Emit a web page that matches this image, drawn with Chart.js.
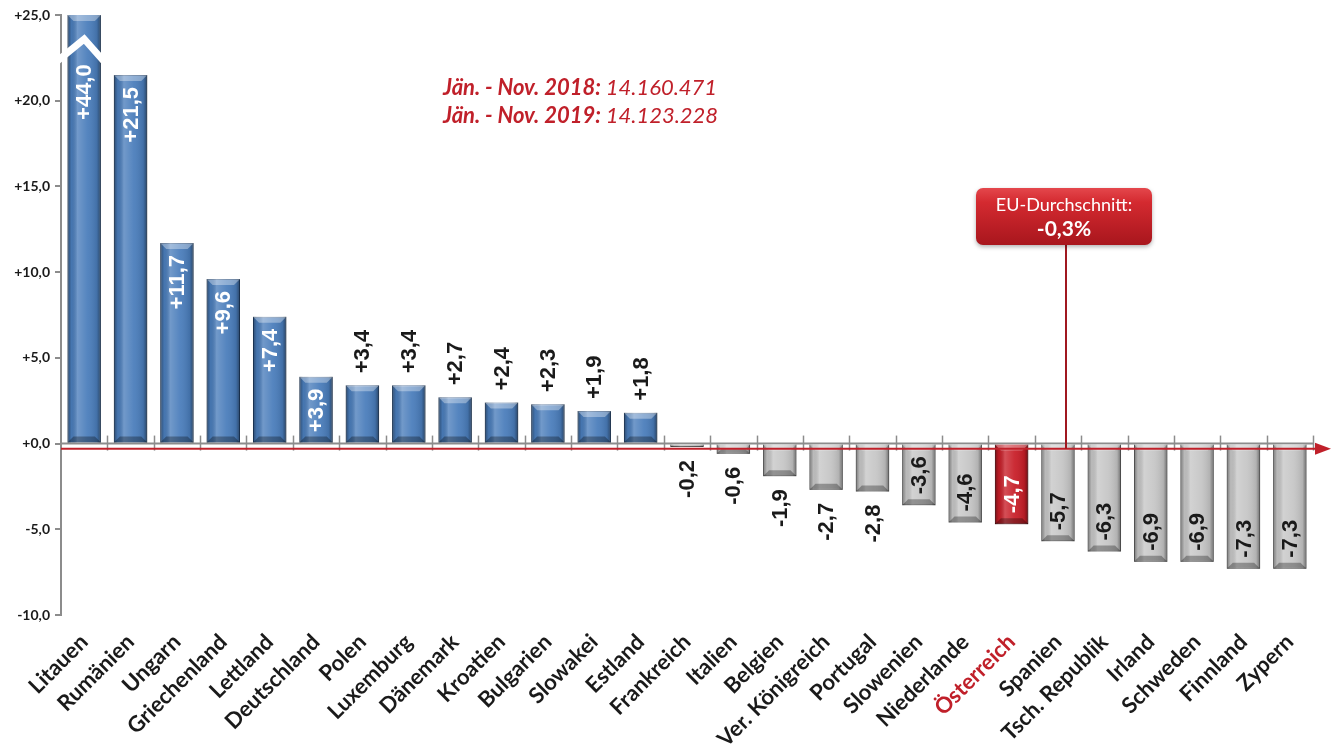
<!DOCTYPE html>
<html>
<head>
<meta charset="utf-8">
<script src="https://cdn.jsdelivr.net/npm/chart.js@4.4.1/dist/chart.umd.min.js"></script>
<style>
html, body { margin: 0; padding: 0; background: #fff; }
#wrap { width: 1337px; height: 756px; }
</style>
</head>
<body>
<div id="wrap"><canvas id="chart"></canvas></div>
<script>
const countries = ['Litauen', 'Rumänien', 'Ungarn', 'Griechenland', 'Lettland', 'Deutschland', 'Polen', 'Luxemburg',
    'Dänemark', 'Kroatien', 'Bulgarien', 'Slowakei', 'Estland', 'Frankreich', 'Italien', 'Belgien', 'Ver. Königreich',
    'Portugal', 'Slowenien', 'Niederlande', 'Österreich', 'Spanien', 'Tsch. Republik', 'Irland', 'Schweden', 'Finnland', 'Zypern'];
const changes = [44.0, 21.5, 11.7, 9.6, 7.4, 3.9, 3.4, 3.4, 2.7, 2.4, 2.3, 1.9, 1.8,
    -0.2, -0.6, -1.9, -2.7, -2.8, -3.6, -4.6, -4.7, -5.7, -6.3, -6.9, -6.9, -7.3, -7.3];
const yMin = -10;
const yMax = 25;
const yStep = 5;
const euAverage = -0.3;
const highlight = 'Österreich';
const totalLabels = ['Jän. - Nov. 2018:', 'Jän. - Nov. 2019:'];
const totalValues = ['14.160.471', '14.123.228'];

const RED = '#c0202a';
const TEXT = '#1a1a1a';

function fmt(v) {
    var s = Math.abs(v).toFixed(1).replace('.', ',');
    return (v < 0 ? '-' : '+') + s;
}

function barColor(i) {
    if (countries[i] === highlight) return '#c81e28';
    return changes[i] > 0 ? '#4a7dbb' : '#c6c6c6';
}
function barBorder(i) {
    if (countries[i] === highlight) return '#7e1016';
    return changes[i] > 0 ? '#274d7d' : '#7d7d7d';
}

const decor = {
    id: 'decor',
    beforeDatasetsDraw(chart) {
        const c = chart.ctx, area = chart.chartArea, y = chart.scales.y;
        const y0 = y.getPixelForValue(0);
        const w = (area.right - area.left) / countries.length;
        c.save();
        c.strokeStyle = '#8c8c8c';
        c.lineWidth = 2;
        c.beginPath();
        c.moveTo(area.left, y0);
        c.lineTo(area.right, y0);
        c.stroke();
        c.lineWidth = 1.5;
        for (var i = 1; i <= countries.length; i++) {
            var x = Math.round(area.left + i * w) + 0.5;
            c.beginPath();
            c.moveTo(x, y0 - 8);
            c.lineTo(x, y0 + 7);
            c.stroke();
        }
        c.restore();
    },
    afterDatasetsDraw(chart) {
        const c = chart.ctx, area = chart.chartArea, ys = chart.scales.y;
        const meta = chart.getDatasetMeta(0);
        c.save();
        c.beginPath();
        c.rect(area.left, area.top, area.right - area.left, area.bottom - area.top);
        c.clip();
        meta.data.forEach(function (bar, i) {
            var p = bar.getProps(['x', 'y', 'base', 'width'], true);
            var left = p.x - p.width / 2, right = p.x + p.width / 2;
            var top = Math.max(Math.min(p.y, p.base), area.top);
            var bottom = Math.max(p.y, p.base);
            var h = bottom - top;
            var g = c.createLinearGradient(left, 0, right, 0);
            g.addColorStop(0, 'rgba(0,0,0,0.40)');
            g.addColorStop(0.12, 'rgba(0,0,0,0.06)');
            g.addColorStop(0.3, 'rgba(255,255,255,0.22)');
            g.addColorStop(0.6, 'rgba(255,255,255,0.06)');
            g.addColorStop(0.88, 'rgba(0,0,0,0.10)');
            g.addColorStop(1, 'rgba(0,0,0,0.45)');
            c.fillStyle = g;
            c.fillRect(left, top, p.width, h);
            var b = Math.min(6, h / 2);
            c.fillStyle = 'rgba(255,255,255,0.35)';
            c.beginPath();
            c.moveTo(left, top); c.lineTo(right, top);
            c.lineTo(right - b, top + b); c.lineTo(left + b, top + b);
            c.closePath(); c.fill();
            c.fillStyle = 'rgba(0,0,0,0.30)';
            c.beginPath();
            c.moveTo(left, bottom); c.lineTo(right, bottom);
            c.lineTo(right - b, bottom - b); c.lineTo(left + b, bottom - b);
            c.closePath(); c.fill();
        });
        c.restore();

        // break mark on the clipped first bar
        var first = meta.data[0].getProps(['x', 'width'], true);
        var yA = ys.getPixelForValue(22.3), yB = ys.getPixelForValue(23.6);
        c.save();
        c.strokeStyle = '#fff';
        c.lineWidth = 7;
        c.lineJoin = 'miter';
        c.beginPath();
        c.moveTo(area.left - 4, yA);
        c.lineTo(first.x, yB);
        c.lineTo(first.x + first.width / 2 + 3, yA);
        c.stroke();
        c.restore();

        // EU average line with arrow
        var yr = ys.getPixelForValue(euAverage);
        c.save();
        c.strokeStyle = RED;
        c.fillStyle = RED;
        c.lineWidth = 2;
        c.beginPath();
        c.moveTo(area.left, yr);
        c.lineTo(area.right + 4, yr);
        c.stroke();
        c.beginPath();
        c.moveTo(area.right + 2, yr - 6);
        c.lineTo(area.right + 18, yr);
        c.lineTo(area.right + 2, yr + 6);
        c.closePath();
        c.fill();
        c.restore();

        // value labels
        c.save();
        c.font = 'bold 22px "Liberation Sans", Arial, sans-serif';
        c.textBaseline = 'middle';
        meta.data.forEach(function (bar, i) {
            var v = changes[i];
            var p = bar.getProps(['x', 'y', 'base'], true);
            var anchor, align, color;
            if (v > 0) {
                if (v >= 3.9) {
                    anchor = Math.max(p.y + 12, yA + 3);
                    align = 'right';
                    color = '#fff';
                } else {
                    anchor = p.y - 12;
                    align = 'left';
                    color = TEXT;
                }
            } else {
                if (v <= -3.6) {
                    anchor = p.y - 11;
                    align = 'left';
                    color = countries[i] === highlight ? '#fff' : TEXT;
                } else {
                    anchor = p.y + 13;
                    align = 'right';
                    color = TEXT;
                }
            }
            c.save();
            c.translate(p.x + 1, anchor);
            c.rotate(-Math.PI / 2);
            c.textAlign = align;
            c.fillStyle = color;
            c.fillText(fmt(v), 0, 0);
            c.restore();
        });
        c.restore();
    },
    afterDraw(chart) {
        const c = chart.ctx, ys = chart.scales.y;
        c.save();
        // totals text
        c.textBaseline = 'alphabetic';
        c.fillStyle = RED;
        totalLabels.forEach(function (lab, k) {
            var yy = 95 + k * 28;
            c.font = 'italic bold 22px Lato, sans-serif';
            c.fillText(lab, 443, yy);
            var wl = c.measureText(lab + ' ').width;
            c.font = 'italic 22px Lato, sans-serif';
            c.fillText(totalValues[k], 443 + wl, yy);
        });
        // EU box
        var bx = 976, by = 188, bw = 176, bh = 57, r = 7;
        var cx = bx + bw / 2;
        c.strokeStyle = '#a01820';
        c.lineWidth = 2;
        c.beginPath();
        c.moveTo(cx + 2, by + bh);
        c.lineTo(cx + 2, ys.getPixelForValue(euAverage));
        c.stroke();
        c.shadowColor = 'rgba(0,0,0,0.3)';
        c.shadowBlur = 4;
        c.shadowOffsetY = 2;
        var g = c.createLinearGradient(0, by, 0, by + bh);
        g.addColorStop(0, '#e4474c');
        g.addColorStop(0.25, '#d42a30');
        g.addColorStop(1, '#a8161d');
        c.fillStyle = g;
        c.beginPath();
        c.roundRect(bx, by, bw, bh, r);
        c.fill();
        c.shadowColor = 'transparent';
        c.fillStyle = '#fff';
        c.textAlign = 'center';
        c.font = '18px Lato, sans-serif';
        c.fillText('EU-Durchschnitt:', cx, by + 23);
        c.font = 'bold 21px Lato, sans-serif';
        c.fillText(fmt(euAverage).replace('+', '') + '%', cx, by + 48);
        c.restore();
    }
};

const ctx = document.getElementById('chart');
const myChart = new Chart(ctx, {
    type: 'bar',
    data: {
        labels: countries,
        datasets: [{
            data: changes,
            backgroundColor: changes.map(function (v, i) { return barColor(i); }),
            borderColor: changes.map(function (v, i) { return barBorder(i); }),
            borderWidth: 1,
            categoryPercentage: 1,
            barPercentage: 0.72
        }]
    },
    options: {
        responsive: true,
        maintainAspectRatio: false,
        animation: false,
        layout: { padding: { top: 15, right: 24, left: 0, bottom: 0 } },
        scales: {
            x: {
                grid: { display: false },
                border: { display: false },
                ticks: {
                    autoSkip: false,
                    maxRotation: 45,
                    minRotation: 45,
                    padding: 6,
                    color: countries.map(function (n) { return n === highlight ? RED : TEXT; }),
                    font: { family: 'Lato', size: 22, weight: 'bold' }
                },
                afterFit: function (s) { s.height = 141; }
            },
            y: {
                min: yMin,
                max: yMax,
                grid: { drawOnChartArea: false, tickLength: 6, color: '#8c8c8c', lineWidth: 2 },
                border: { color: '#8c8c8c', width: 2 },
                ticks: {
                    stepSize: yStep,
                    padding: 5,
                    color: TEXT,
                    font: { family: 'Lato', size: 14, weight: 'bold' },
                    callback: function (v) { return fmt(v); }
                },
                afterFit: function (s) { s.width = 61; }
            }
        },
        plugins: {
            legend: { display: false },
            tooltip: { enabled: false }
        }
    },
    plugins: [decor]
});
</script>
</body>
</html>
